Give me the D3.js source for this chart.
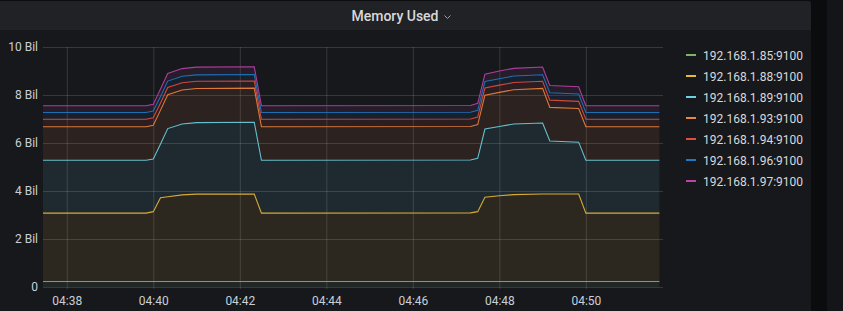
<!DOCTYPE html>
<html>
<head>
<meta charset="utf-8">
<script src="https://cdn.jsdelivr.net/npm/d3@7"></script>
<style>
  html, body { margin: 0; padding: 0; background: #0b0c0e; }
  svg { display: block; font-family: Roboto, "Noto Sans", sans-serif; }
</style>
</head>
<body>
<script>
// sample times (shared by every series)
const times = ["04:37:27", "04:39:50", "04:40:00", "04:40:10", "04:40:20", "04:40:40", "04:41:00",
  "04:42:20", "04:42:30", "04:47:20", "04:47:30", "04:47:40", "04:48:00", "04:48:20",
  "04:49:00", "04:49:10", "04:49:50", "04:50:00", "04:51:42"];

// memory used per host, in billions (stacked in this order)
const host85 = [0.23, 0.23, 0.23, 0.23, 0.23, 0.23, 0.23, 0.23, 0.23, 0.23, 0.23, 0.23, 0.23, 0.23, 0.23, 0.23, 0.23, 0.23, 0.23];
const host88 = [2.85, 2.85, 2.91, 3.49, 3.53, 3.61, 3.64, 3.645, 2.85, 2.86, 2.91, 3.51, 3.57, 3.62, 3.645, 3.645, 3.645, 2.85, 2.85];
const host89 = [2.20, 2.20, 2.19, 2.24, 2.84, 2.95, 2.98, 2.99, 2.20, 2.20, 2.22, 2.84, 2.89, 2.94, 2.96, 2.21, 2.16, 2.20, 2.20];
const host93 = [1.40, 1.40, 1.41, 1.41, 1.41, 1.42, 1.42, 1.42, 1.40, 1.40, 1.41, 1.41, 1.42, 1.43, 1.44, 1.40, 1.40, 1.40, 1.40];
const host94 = [0.31, 0.31, 0.31, 0.30, 0.30, 0.30, 0.30, 0.30, 0.31, 0.31, 0.31, 0.30, 0.30, 0.30, 0.30, 0.30, 0.30, 0.31, 0.31];
const host96 = [0.28, 0.28, 0.28, 0.27, 0.27, 0.27, 0.27, 0.27, 0.28, 0.28, 0.28, 0.27, 0.27, 0.27, 0.27, 0.31, 0.31, 0.28, 0.28];
const host97 = [0.28, 0.28, 0.28, 0.31, 0.32, 0.32, 0.32, 0.32, 0.28, 0.28, 0.29, 0.31, 0.32, 0.32, 0.32, 0.30, 0.30, 0.28, 0.28];

const seriesNames = ["192.168.1.85:9100", "192.168.1.88:9100", "192.168.1.89:9100", "192.168.1.93:9100",
  "192.168.1.94:9100", "192.168.1.96:9100", "192.168.1.97:9100"];
const seriesValues = [host85, host88, host89, host93, host94, host96, host97];
const seriesColors = ["#7eb26d", "#eab839", "#6ed0e0", "#ef843c", "#e24d42", "#1f78c1", "#ba43a9"];

const yTicks = [0, 2, 4, 6, 8, 10];
const yTickLabels = ["0", "2 Bil", "4 Bil", "6 Bil", "8 Bil", "10 Bil"];
const xTicks = ["04:38", "04:40", "04:42", "04:44", "04:46", "04:48", "04:50"];

const W = 843, H = 311;
const parseT = d3.timeParse("%H:%M:%S");
const parseTick = d3.timeParse("%H:%M");

const svg = d3.select("body").append("svg")
    .attr("width", W)
    .attr("height", H);

// panel background
svg.append("rect").attr("x", 0).attr("y", 0).attr("width", W).attr("height", H).attr("fill", "#0b0c0e");
svg.append("rect").attr("x", 827).attr("y", 0).attr("width", 16).attr("height", H).attr("fill", "#141518");
svg.append("rect").attr("x", -6).attr("y", 1).attr("width", 817).attr("height", H + 10).attr("rx", 3).attr("fill", "#17181c");
svg.append("path")
    .attr("d", "M-6,1 H808 Q811,1 811,4 V30 H-6 Z")
    .attr("fill", "#202226");

// titre
svg.append("text")
    .attr("x", 395)
    .attr("y", 21)
    .attr("text-anchor", "middle")
    .attr("font-size", "14px")
    .attr("font-weight", 500)
    .attr("fill", "#d8d9da")
    .text("Memory Used");
svg.append("path")
    .attr("d", "M444.5,15.5 L447.5,18.5 L450.5,15.5")
    .attr("fill", "none")
    .attr("stroke", "#9fa1a6")
    .attr("stroke-width", 1);

// scales
const x = d3.scaleTime()
    .domain([parseT("04:37:27"), parseT("04:51:47")])
    .range([43, 663]);
const y = d3.scaleLinear()
    .domain([0, 10])
    .range([287, 47]);

// grid
svg.append("g")
    .attr("transform", "translate(43,0)")
    .call(d3.axisLeft(y).tickValues(yTicks).tickSize(-620).tickFormat(""))
    .call(g => g.select(".domain").remove())
    .call(g => g.selectAll("line").attr("stroke", "#ffffff").attr("stroke-opacity", 0.14));
svg.append("g")
    .attr("transform", "translate(0,289)")
    .call(d3.axisBottom(x).tickValues(xTicks.map(parseTick)).tickSize(-242).tickFormat(""))
    .call(g => g.select(".domain").remove())
    .call(g => g.selectAll("line").attr("stroke", "#ffffff").attr("stroke-opacity", 0.14));

// stacked data
const table = times.map((t, i) => {
    const row = { time: parseT(t) };
    seriesNames.forEach((n, k) => { row[n] = seriesValues[k][i]; });
    return row;
});
const stacked = d3.stack().keys(seriesNames)(table);

const area = d3.area()
    .x(d => x(d.data.time))
    .y0(d => y(d[0]))
    .y1(d => y(d[1]));
const line = d3.line()
    .x(d => x(d.data.time))
    .y(d => y(d[1]));

const layers = svg.append("g");
layers.selectAll(".fill")
    .data(stacked)
    .enter().append("path")
    .attr("class", "fill")
    .attr("d", area)
    .attr("fill", (d, i) => seriesColors[i])
    .attr("fill-opacity", 0.1);
layers.selectAll(".line")
    .data(stacked)
    .enter().append("path")
    .attr("class", "line")
    .attr("d", line)
    .attr("fill", "none")
    .attr("stroke", (d, i) => seriesColors[i])
    .attr("stroke-opacity", 0.9)
    .attr("stroke-width", 1.1);

// axis labels
svg.append("g")
    .attr("transform", "translate(43,0)")
    .call(d3.axisLeft(y).tickValues(yTicks).tickSize(0).tickPadding(5).tickFormat((d, i) => yTickLabels[i]))
    .call(g => g.select(".domain").remove())
    .call(g => g.selectAll("text").attr("fill", "#c7d0d9").attr("font-size", "12px").attr("font-family", "Roboto"));
svg.append("g")
    .attr("transform", "translate(0,287)")
    .call(d3.axisBottom(x).tickValues(xTicks.map(parseTick)).tickSize(0).tickPadding(9).tickFormat((d, i) => xTicks[i]))
    .call(g => g.select(".domain").remove())
    .call(g => g.selectAll("text").attr("fill", "#c7d0d9").attr("font-size", "12px").attr("font-family", "Roboto"));

// legend
const legend = svg.append("g")
    .selectAll("g")
    .data(seriesNames)
    .enter().append("g")
    .attr("transform", (d, i) => `translate(686,${55 + i * 21})`);
legend.append("rect")
    .attr("x", 0).attr("y", -1).attr("width", 10).attr("height", 2)
    .attr("fill", (d, i) => seriesColors[i]);
legend.append("text")
    .attr("x", 17)
    .attr("y", 4.5)
    .attr("font-size", "12px")
    .attr("fill", "#d8d9da")
    .text(d => d);
</script>
</body>
</html>
